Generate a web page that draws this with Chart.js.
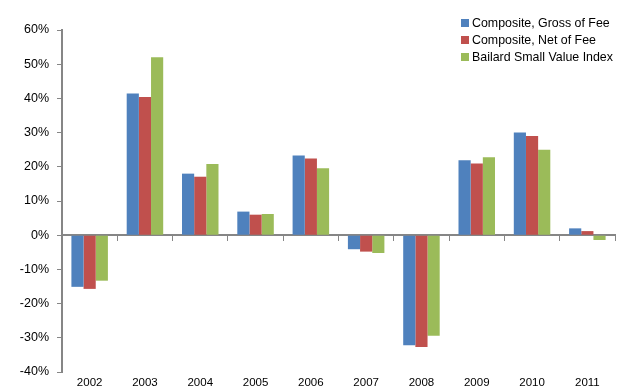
<!DOCTYPE html>
<html>
<head>
<meta charset="utf-8">
<script src="https://cdn.jsdelivr.net/npm/chart.js@4/dist/chart.umd.min.js"></script>
<style>
    html, body { margin: 0; padding: 0; background: #fff; }
    #wrap { position: relative; width: 617px; height: 392px; }
    #legend { position: absolute; left: 461px; top: 15px; font-family: "Liberation Sans", Arial, sans-serif; font-size: 12.4px; color: #000; }
    #legend div { height: 17px; line-height: 17px; white-space: nowrap; }
    #legend span.box { display: inline-block; width: 8px; height: 8px; margin-right: 3px; vertical-align: 0px; }
</style>
</head>
<body>
<div id="wrap">
    <canvas id="myChart" width="617" height="392"></canvas>
    <div id="legend"></div>
</div>
<script>
const anos = ['2002', '2003', '2004', '2005', '2006', '2007', '2008', '2009', '2010', '2011'];
const brutoTaxa = [-15.1, 41.4, 18.0, 6.9, 23.3, -4.1, -32.2, 21.9, 30.0, 2.0];
const liquidoTaxa = [-15.7, 40.4, 17.1, 6.0, 22.4, -4.8, -32.7, 21.0, 29.0, 1.2];
const indiceBailard = [-13.3, 52.0, 20.8, 6.2, 19.6, -5.2, -29.4, 22.8, 25.0, -1.4];
const seriesNomes = ['Composite, Gross of Fee', 'Composite, Net of Fee', 'Bailard Small Value Index'];
const seriesCores = ['#4F81BD', '#C0504D', '#9BBB59'];
const yMin = -40;
const yMax = 60;
const yPasso = 10;

const fonte = '"Liberation Sans", Arial, sans-serif';
const cinza = '#868686';

const ctx = document.getElementById('myChart').getContext('2d');

const dados = [brutoTaxa, liquidoTaxa, indiceBailard];

const chart = new Chart(ctx, {
    type: 'bar',
    data: {
        labels: anos,
        datasets: dados.map((serie, i) => ({
            label: seriesNomes[i],
            data: serie,
            backgroundColor: seriesCores[i],
            borderWidth: 0,
            barPercentage: 1,
            categoryPercentage: 0.66,
            xAxisID: 'x'
        }))
    },
    options: {
        responsive: false,
        animation: false,
        layout: { padding: { top: 30, right: 2, left: 0, bottom: 0 } },
        plugins: {
            legend: { display: false },
            tooltip: { enabled: false }
        },
        scales: {
            x: {
                position: 'bottom',
                grid: { display: false, drawTicks: false },
                border: { display: false },
                ticks: { color: '#000', font: { family: fonte, size: 11.5 }, padding: 4 },
                afterFit: scale => { scale.height = 20; }
            },
            zero: {
                axis: 'x',
                type: 'category',
                labels: anos,
                position: { y: 0 },
                offset: true,
                grid: { offset: true, drawOnChartArea: false, drawTicks: true, tickLength: 5, color: cinza, lineWidth: 1 },
                border: { display: true, color: cinza, width: 2 },
                ticks: { display: false }
            },
            y: {
                min: yMin,
                max: yMax,
                ticks: {
                    stepSize: yPasso,
                    color: '#000',
                    font: { family: fonte, size: 12.5 },
                    padding: 8,
                    callback: v => v + '%'
                },
                grid: { drawOnChartArea: false, tickLength: 5, color: cinza },
                border: { color: cinza, width: 2 },
                afterFit: scale => { scale.width = 62; }
            }
        }
    }
});

const legenda = document.getElementById('legend');
seriesNomes.forEach((nome, i) => {
    const linha = document.createElement('div');
    linha.innerHTML = `<span class="box" style="background:${seriesCores[i]}"></span>${nome}`;
    legenda.appendChild(linha);
});
</script>
</body>
</html>
